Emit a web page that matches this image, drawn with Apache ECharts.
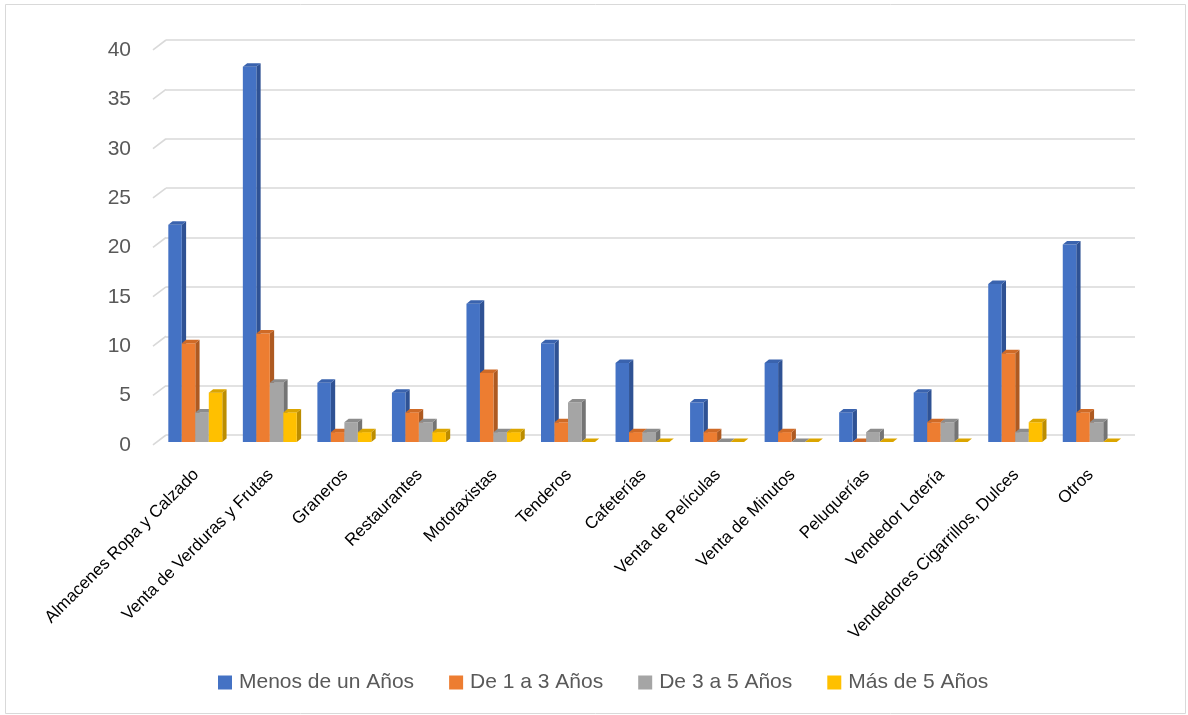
<!DOCTYPE html>
<html>
<head>
<meta charset="utf-8">
<script src="https://cdn.jsdelivr.net/npm/echarts@6/dist/echarts.min.js"></script>
<style>
  html, body { margin: 0; padding: 0; background: #ffffff; }
  #chart { width: 1188px; height: 715px; }
</style>
</head>
<body>
<div id="chart"></div>
<script>
// Business categories along the x axis
const categories = [
  'Almacenes Ropa y Calzado', 'Venta de Verduras y Frutas', 'Graneros', 'Restaurantes',
  'Mototaxistas', 'Tenderos', 'Cafeterías', 'Venta de Películas', 'Venta de Minutos',
  'Peluquerías', 'Vendedor Lotería', 'Vendedores Cigarrillos, Dulces', 'Otros'
];

// Time in activity groups
const seriesNames = ['Menos de un Años', 'De 1 a 3 Años', 'De 3 a 5 Años', 'Más de 5 Años'];

// Counts per category for each group
const menosDeUnAno = [22, 38, 6, 5, 14, 10, 8, 4, 8, 3, 5, 16, 20];
const de1a3Anos    = [10, 11, 1, 3, 7, 2, 1, 1, 1, 0, 2, 9, 3];
const de3a5Anos    = [3, 6, 2, 2, 1, 4, 1, 0, 0, 1, 2, 1, 2];
const masDe5Anos   = [5, 3, 1, 1, 1, 0, 0, 0, 0, 0, 0, 2, 0];

// Value axis ticks
const yTicks = [0, 5, 10, 15, 20, 25, 30, 35, 40];

const seriesValues = [menosDeUnAno, de1a3Anos, de3a5Anos, masDe5Anos];

// Front / side / top face colours for the pseudo-3D columns
const faceColors = [
  { front: '#4472C4', side: '#2F5294', top: '#3A63AE' },
  { front: '#ED7D31', side: '#AE5A21', top: '#CF6A26' },
  { front: '#A5A5A5', side: '#747474', top: '#8C8C8C' },
  { front: '#FFC000', side: '#BC8D00', top: '#DBA500' }
];

// Depth geometry (pixels)
const FRONT_DY = 7;      // columns' front face sits below the back wall
const DEPTH_X = 4.3;     // column depth, horizontal component
const DEPTH_Y = 3.5;     // column depth, vertical component
const WALL_X = 13;       // side wall depth, horizontal component
const WALL_Y = 9.8;      // side wall depth, vertical component

function columnRenderer(s) {
  const c = faceColors[s];
  return function (params, api) {
    const cat = api.value(0);
    const val = api.value(1);
    const top = api.coord([cat, val]);
    const base = api.coord([cat, 0]);
    const band = api.size([1, 0])[0];
    const bw = band * 0.181;
    const shiftX = band * 0.107;
    const x0 = top[0] - shiftX - 2 * bw + s * bw;
    const x1 = x0 + bw;
    const yT = top[1] + FRONT_DY;
    const yB = base[1] + FRONT_DY;
    const children = [];
    if (yB - yT > 0.2) {
      children.push({
        type: 'polygon',
        shape: { points: [[x1, yT], [x1 + DEPTH_X, yT - DEPTH_Y], [x1 + DEPTH_X, yB - DEPTH_Y], [x1, yB]] },
        style: { fill: c.side }
      });
      children.push({
        type: 'rect',
        shape: { x: x0, y: yT, width: bw, height: yB - yT },
        style: { fill: c.front }
      });
    }
    children.push({
      type: 'polygon',
      shape: { points: [[x0, yT], [x1, yT], [x1 + DEPTH_X, yT - DEPTH_Y], [x0 + DEPTH_X, yT - DEPTH_Y]] },
      style: { fill: c.top }
    });
    return { type: 'group', children: children };
  };
}

// Slanted segments of the side wall, one per gridline
function wallRenderer(params, api) {
  const p = api.coord([0, api.value(1)]);
  const band = api.size([1, 0])[0];
  const left = p[0] - band / 2;
  return {
    type: 'line',
    shape: { x1: left - WALL_X, y1: p[1] + WALL_Y, x2: left, y2: p[1] },
    style: { stroke: '#D9D9D9', lineWidth: 1.6 }
  };
}

const series = [{
  name: 'wall',
  type: 'custom',
  silent: true,
  renderItem: wallRenderer,
  data: yTicks.map(v => [0, v]),
  z: 1
}];

seriesNames.forEach((name, s) => {
  series.push({
    name: name,
    type: 'custom',
    renderItem: columnRenderer(s),
    itemStyle: { color: faceColors[s].front },
    data: seriesValues[s].map((v, i) => [i, v]),
    z: 2 + s
  });
});

const chart = echarts.init(document.getElementById('chart'));
chart.setOption({
  animation: false,
  backgroundColor: '#ffffff',
  textStyle: { fontFamily: '"Liberation Sans", Arial, sans-serif' },
  graphic: [{
    type: 'rect',
    shape: { x: 5.5, y: 4.5, width: 1180, height: 709 },
    style: { fill: 'none', stroke: '#D9D9D9', lineWidth: 1 },
    silent: true
  }],
  grid: { left: 166, top: 40, right: 53, bottom: 280 },
  legend: {
    data: seriesNames,
    left: 213,
    top: 667,
    icon: 'rect',
    itemWidth: 14,
    itemHeight: 14,
    itemGap: 35,
    textStyle: { fontSize: 21, color: '#595959', padding: [0, 0, 0, 2] }
  },
  xAxis: {
    type: 'category',
    data: categories,
    boundaryGap: true,
    axisLine: { show: false },
    axisTick: { show: false },
    axisLabel: {
      interval: 0,
      rotate: 45,
      margin: 30,
      padding: [0, 10, 0, 0],
      fontSize: 17,
      color: '#000000'
    }
  },
  yAxis: {
    type: 'value',
    min: 0,
    max: 40,
    interval: 5,
    axisLine: { show: false },
    axisTick: { show: false },
    axisLabel: {
      margin: 35,
      fontSize: 21,
      color: '#595959',
      verticalAlign: 'top',
      lineHeight: 20
    },
    splitLine: { lineStyle: { color: '#D9D9D9', width: 1.6 } }
  },
  series: series
});
</script>
</body>
</html>
